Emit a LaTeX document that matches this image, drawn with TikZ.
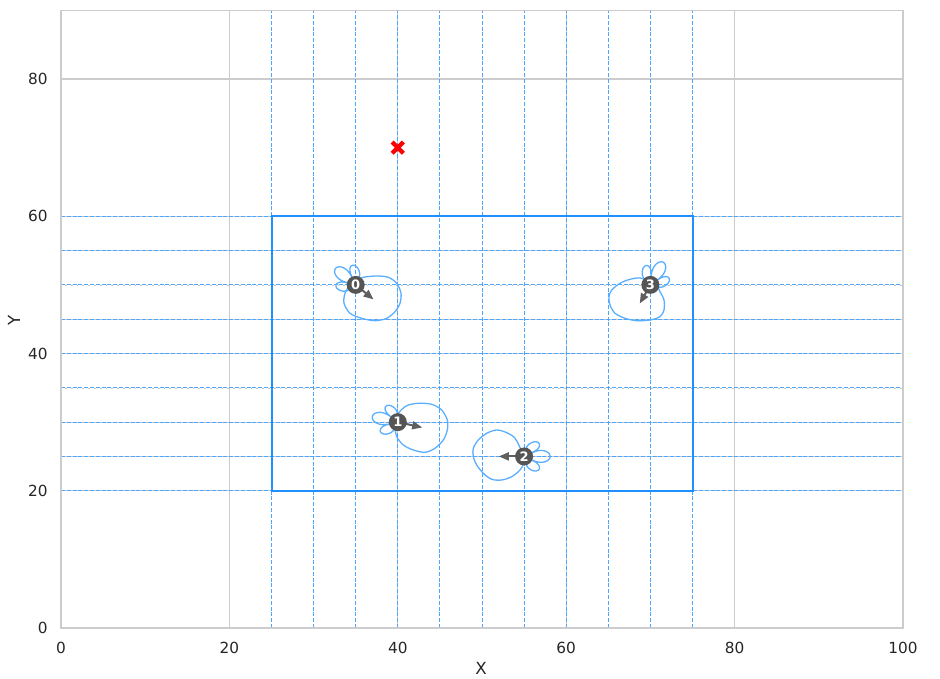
\documentclass[tikz,border=0pt]{standalone}
\usepackage{fontspec}
\setmainfont{DejaVu Sans}
\usetikzlibrary{arrows.meta}
\definecolor{gridgray}{HTML}{CCCCCC}
\definecolor{dblue}{HTML}{1E90FF}
\definecolor{dashblue}{HTML}{4BA6FF}
\definecolor{blobblue}{HTML}{5AAEFF}
\definecolor{robgray}{HTML}{555555}
\definecolor{arrgray}{HTML}{5F5F5F}
\newcommand\petals[3]{\draw[blob] plot[domain=-75:75, samples=121, variable=\t]
  ({#1+(8+sqrt(abs(cos(3.6*\t))+0.0001)*(12+6*cos(2*\t)))*cos(#3+\t)},
   {#2+(8+sqrt(abs(cos(3.6*\t))+0.0001)*(12+6*cos(2*\t)))*sin(#3+\t)}) -- cycle;}
\begin{document}
\begin{tikzpicture}[x=8.42pt,y=6.8625pt,
  majorgrid/.style={draw=gridgray, line width=1.1pt},
  spine/.style={draw=gridgray, line width=1.6pt},
  dashline/.style={draw=dashblue, line width=0.9pt, dash pattern=on 4pt off 1.8pt},
  dashunder/.style={draw=gray!45, line width=0.6pt, dash pattern=on 1.8pt off 4pt, dash phase=-4pt},
  region/.style={draw=dblue, line width=2pt},
  blob/.style={draw=blobblue, line width=1.3pt},
  headarrow/.style={draw=arrgray, line width=2pt, -{Triangle[length=10pt,width=8pt]}},
  robot/.style={circle, fill=robgray, minimum size=18pt, inner sep=0pt, text=white,
    font=\fontsize{13}{13}\selectfont\bfseries},
  ticklabel/.style={inner sep=0pt, text=black!85, font=\fontsize{15.3}{16}\selectfont},
  axlabel/.style={inner sep=0pt, text=black!85, font=\fontsize{16.7}{18}\selectfont}
]
\useasboundingbox (-61pt,-51pt) rectangle (879pt,628pt);
% major grid
\foreach \x in {20,40,60,80} \draw[majorgrid] (\x,0) -- (\x,90);
\foreach \y in {20,40,60,80} \draw[majorgrid] (0,\y) -- (100,\y);
% dashed grid
\foreach \y in {20,25,...,60} \draw[dashunder] (0,\y) -- (100,\y);
\foreach \x in {25,30,...,75} \draw[dashline] (\x,0) -- (\x,90);
\foreach \y in {20,25,...,60} \draw[dashline] (0,\y) -- (100,\y);
% spines
\draw[spine] (0,0) rectangle (100,90);
% region
\draw[region] (25,20) rectangle (75,60);
% goal marker
\coordinate (goal) at (40,70);
\draw[red, line width=4.2pt] ([shift={(-5.6pt,-5.6pt)}]goal) -- ([shift={(5.6pt,5.6pt)}]goal);
\draw[red, line width=4.2pt] ([shift={(-5.6pt,5.6pt)}]goal) -- ([shift={(5.6pt,-5.6pt)}]goal);
% blobs and petals in pixel coordinates
\begin{scope}[x=1pt,y=-1pt,shift={(-61pt,628pt)}]
\draw[blob] plot[smooth cycle] coordinates {(363.3,277.3) (376.7,276) (388.3,277.3) (396.7,283.3) (401,293.3) (400,303.3) (395,311.7) (386.7,318.3) (375,320.7) (361.7,318.3) (350,313.3) (344,303.3) (345,293.3) (350,285) (356.7,280)};
\draw[blob] plot[smooth cycle] coordinates {(398.3,413.3) (406.7,405.7) (418.3,403.3) (431.7,404.3) (441.7,410) (447.3,420) (447.3,430) (443.3,440) (435,448.3) (425,452.3) (413.3,450) (403.3,445) (396.7,436.7) (395,428.3) (395,421.7)};
\draw[blob] plot[smooth cycle] coordinates {(521.7,451.7) (515,438.3) (506.7,432.7) (496.7,430) (486.7,433.3) (478.3,440) (473.3,448.3) (473.3,456.7) (476.7,465) (483.3,473.3) (491.7,479.3) (501.7,480) (511.7,476.7) (520,470) (523.3,463.3)};
\draw[blob] plot[smooth cycle] coordinates {(641.7,278.3) (630,279.3) (620,283.3) (611.7,290) (609,296.7) (610,305) (615,313.3) (625,318.3) (636.7,320.7) (650,320) (660,316.7) (664,310) (664,300) (660,291.7) (656.7,286.7)};
\petals{355.7}{284.9}{-140.8}
\petals{397.8}{422.1}{-167.7}
\petals{524.1}{456.4}{0}
\petals{650.4}{284.9}{-60.2}
\end{scope}
% robots
\coordinate (c0) at (35,50);
\coordinate (c1) at (40,30);
\coordinate (c2) at (55,25);
\coordinate (c3) at (70,50);
\path (c0) ++(-45:3) coordinate (h0);
\path (c1) ++(-15:3) coordinate (h1);
\path (c2) ++(180:3) coordinate (h2);
\path (c3) ++(-115:3) coordinate (h3);
\draw[headarrow] (c0) -- (h0);
\draw[headarrow] (c1) -- (h1);
\draw[headarrow] (c2) -- (h2);
\draw[headarrow] (c3) -- (h3);
\node[robot] (r0) at (c0) {0};
\node[robot] (r1) at (c1) {1};
\node[robot] (r2) at (c2) {2};
\node[robot] (r3) at (c3) {3};
% tick labels
\foreach \x in {0,20,40,60,80,100} \node[ticklabel, anchor=north] (xt\x) at (\x,-1.97) {\x};
\foreach \y in {0,20,40,60,80} \node[ticklabel, anchor=east] (yt\y) at (-1.58,\y) {\y};
\node[axlabel] (xlab) at (49.88,-5.83) {X};
\node[axlabel, rotate=90] (ylab) at (-5.58,44.88) {Y};
\end{tikzpicture}
\end{document}
